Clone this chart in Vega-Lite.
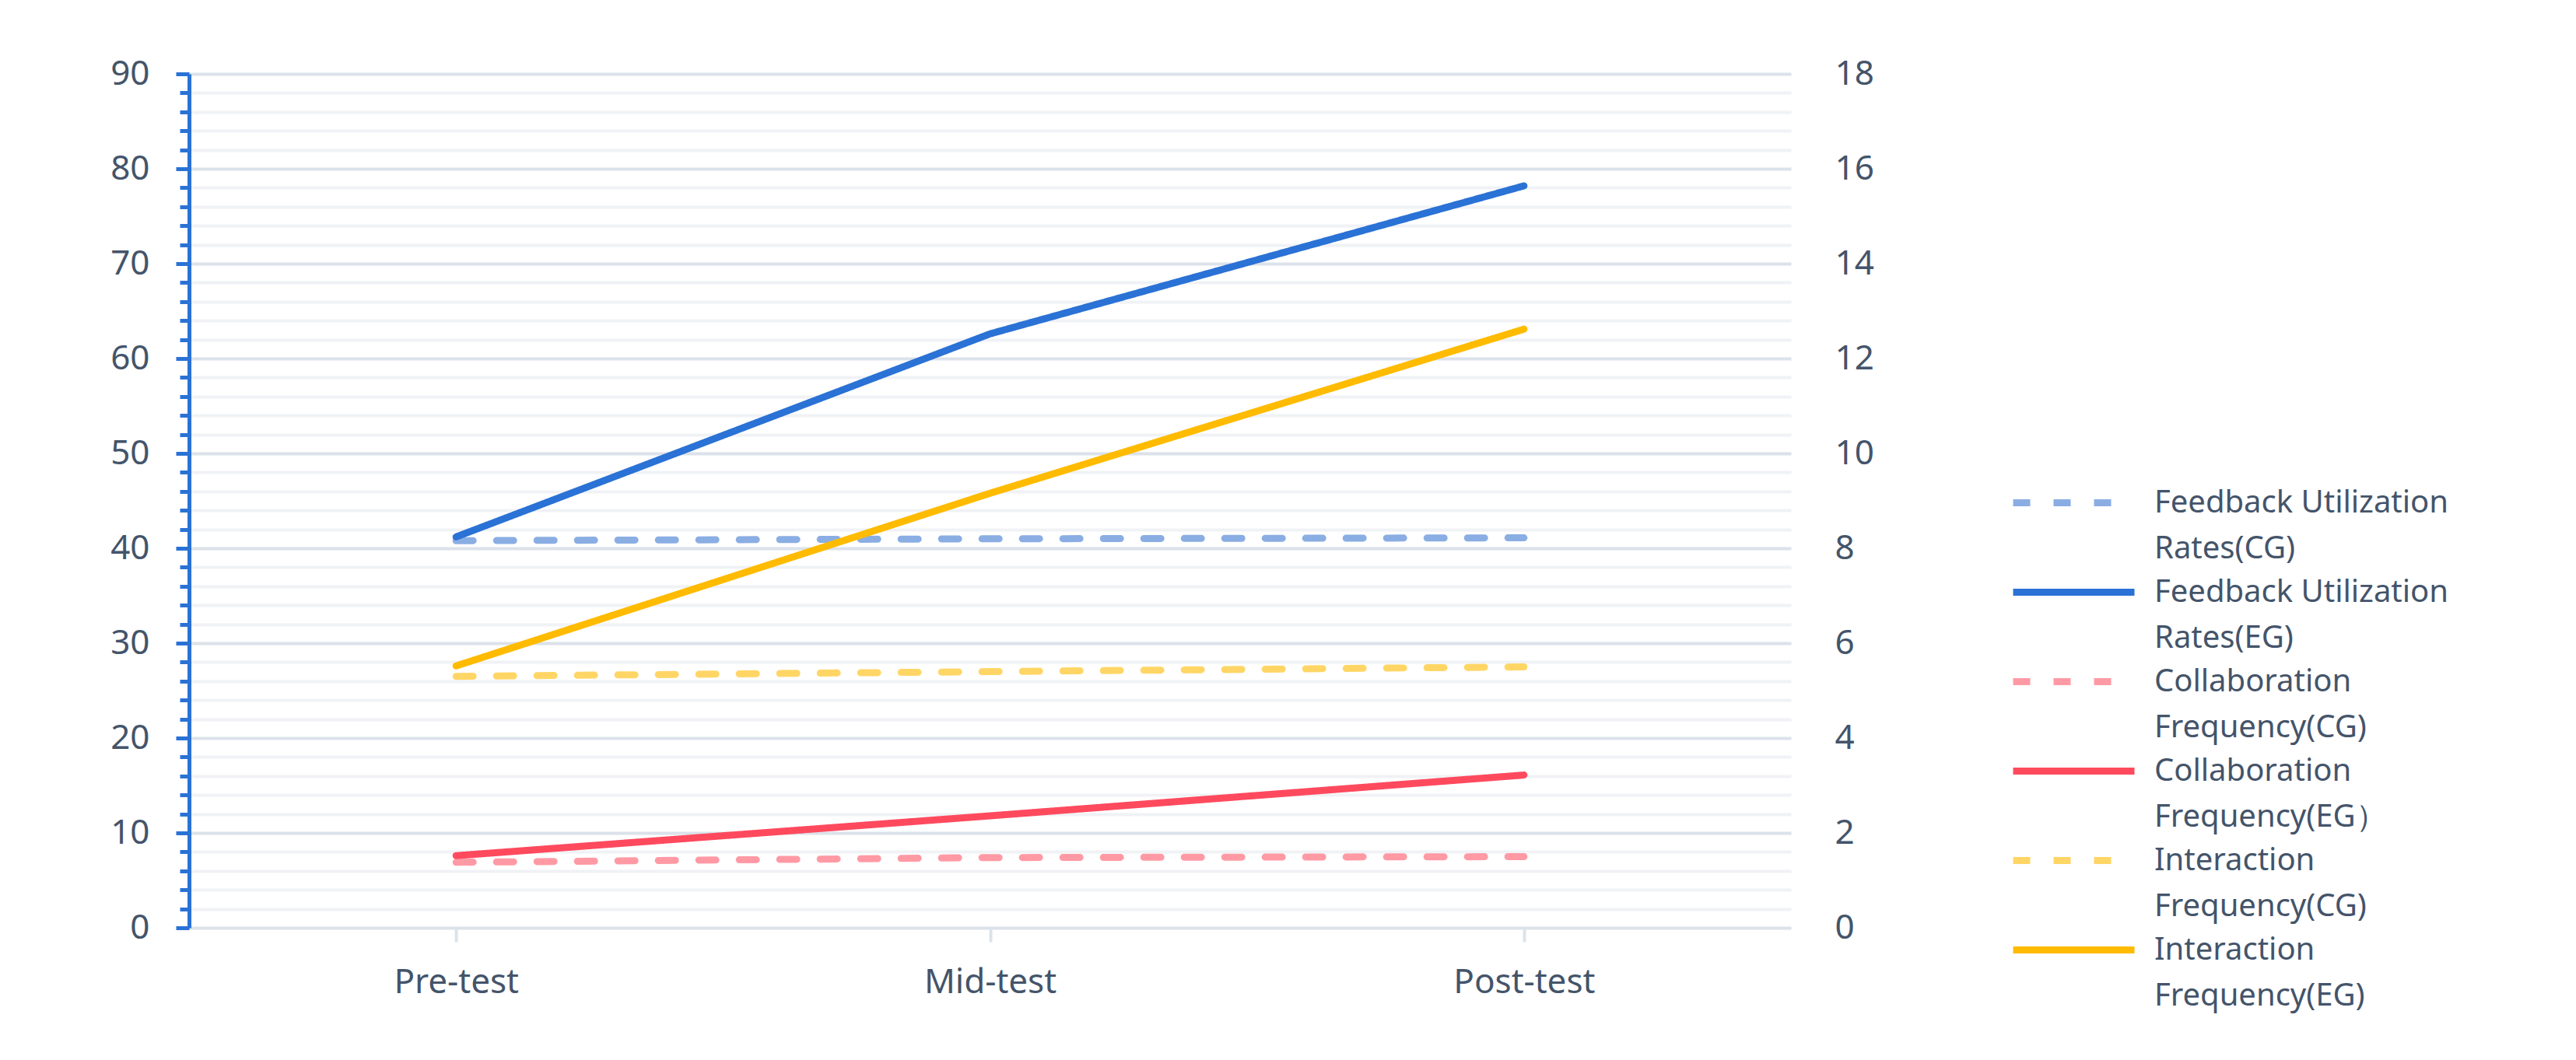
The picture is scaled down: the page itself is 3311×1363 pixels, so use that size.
{
  "$schema": "https://vega.github.io/schema/vega-lite/v6.json",
  "width": 2059,
  "height": 1098,
  "autosize": "none",
  "padding": {"left": 243, "top": 95, "right": 1009, "bottom": 170},
  "background": "white",
  "config": {
    "view": {"stroke": null},
    "font": "Noto Sans",
    "style": {"guide-label": {"lineHeight": 59}}
  },
  "data": {
    "values": [
      {"test": "Pre-test", "series": "Feedback Utilization Rates(CG)", "value": 40.8},
      {"test": "Mid-test", "series": "Feedback Utilization Rates(CG)", "value": 41.0},
      {"test": "Post-test", "series": "Feedback Utilization Rates(CG)", "value": 41.1},
      {"test": "Pre-test", "series": "Feedback Utilization Rates(EG)", "value": 41.2},
      {"test": "Mid-test", "series": "Feedback Utilization Rates(EG)", "value": 62.6},
      {"test": "Post-test", "series": "Feedback Utilization Rates(EG)", "value": 78.2},
      {"test": "Pre-test", "series": "Collaboration Frequency(CG)", "value": 6.9},
      {"test": "Mid-test", "series": "Collaboration Frequency(CG)", "value": 7.4},
      {"test": "Post-test", "series": "Collaboration Frequency(CG)", "value": 7.5},
      {"test": "Pre-test", "series": "Collaboration Frequency(EG）", "value": 7.6},
      {"test": "Mid-test", "series": "Collaboration Frequency(EG）", "value": 11.8},
      {"test": "Post-test", "series": "Collaboration Frequency(EG）", "value": 16.1},
      {"test": "Pre-test", "series": "Interaction Frequency(CG)", "value": 26.5},
      {"test": "Mid-test", "series": "Interaction Frequency(CG)", "value": 27.0},
      {"test": "Post-test", "series": "Interaction Frequency(CG)", "value": 27.5},
      {"test": "Pre-test", "series": "Interaction Frequency(EG)", "value": 27.6},
      {"test": "Mid-test", "series": "Interaction Frequency(EG)", "value": 45.8},
      {"test": "Post-test", "series": "Interaction Frequency(EG)", "value": 63.1}
    ]
  },
  "layer": [
    {
      "mark": {"type": "line", "strokeWidth": 9, "strokeCap": "round", "strokeJoin": "round"},
      "encoding": {
        "x": {
          "field": "test", "type": "nominal",
          "sort": ["Pre-test", "Mid-test", "Post-test"],
          "scale": {"type": "point", "padding": 0.5},
          "axis": {
            "title": null, "labelAngle": 0, "labelFontSize": 44, "labelColor": "#44546a", "labelLimit": 500,
            "domain": false, "ticks": true, "tickColor": "#dde3ea", "tickWidth": 4, "tickSize": 18,
            "labelPadding": 30, "grid": false
          }
        },
        "y": {
          "field": "value", "type": "quantitative",
          "scale": {"domain": [0, 90]},
          "axis": {
            "orient": "left", "title": null,
            "values": [0,2,4,6,8,10,12,14,16,18,20,22,24,26,28,30,32,34,36,38,40,42,44,46,48,50,52,54,56,58,60,62,64,66,68,70,72,74,76,78,80,82,84,86,88,90],
            "labelExpr": "datum.value % 10 === 0 ? datum.label : ''",
            "labelOverlap": false,
            "grid": true,
            "gridColor": {"condition": {"test": "datum.value % 10 === 0", "value": "#dce2ea"}, "value": "#f0f2f5"},
            "gridWidth": 4,
            "domainColor": "#2a72d5", "domainWidth": 5,
            "tickColor": "#2a72d5", "tickWidth": 5,
            "tickSize": {"condition": {"test": "datum.value % 10 === 0", "value": 17}, "value": 12},
            "labelFontSize": 44, "labelColor": "#44546a", "labelPadding": 34
          }
        },
        "color": {
          "field": "series", "type": "nominal",
          "scale": {
            "domain": ["Feedback Utilization Rates(CG)", "Feedback Utilization Rates(EG)", "Collaboration Frequency(CG)", "Collaboration Frequency(EG）", "Interaction Frequency(CG)", "Interaction Frequency(EG)"],
            "range": ["#8aaee3", "#2a72d5", "#ff9aa5", "#ff4a5e", "#ffd666", "#ffbb00"]
          },
          "legend": {
            "orient": "none", "legendX": 2398, "legendY": 527,
            "title": null, "symbolType": "M-3.9,0H3.9", "symbolSize": 1600, "symbolStrokeWidth": 9,
            "labelFontSize": 40, "labelColor": "#44546a", "labelLimit": 900, "labelOffset": 79,
            "rowPadding": 11, "labelBaseline": "middle",
            "labelExpr": "[slice(datum.label, 0, lastindexof(datum.label, ' ')), slice(datum.label, lastindexof(datum.label, ' ') + 1)]"
          }
        },
        "strokeDash": {
          "field": "series", "type": "nominal",
          "scale": {
            "domain": ["Feedback Utilization Rates(CG)", "Feedback Utilization Rates(EG)", "Collaboration Frequency(CG)", "Collaboration Frequency(EG）", "Interaction Frequency(CG)", "Interaction Frequency(EG)"],
            "range": [[22, 30], [1, 0], [22, 30], [1, 0], [22, 30], [1, 0]]
          },
          "legend": {
            "orient": "none", "legendX": 2398, "legendY": 527,
            "title": null, "symbolType": "M-3.9,0H3.9", "symbolSize": 1600, "symbolStrokeWidth": 9,
            "labelFontSize": 40, "labelColor": "#44546a", "labelLimit": 900, "labelOffset": 79,
            "rowPadding": 11, "labelBaseline": "middle",
            "labelExpr": "[slice(datum.label, 0, lastindexof(datum.label, ' ')), slice(datum.label, lastindexof(datum.label, ' ') + 1)]"
          }
        }
      }
    },
    {
      "mark": {"type": "rule", "opacity": 0},
      "encoding": {
        "y": {
          "datum": 0, "type": "quantitative",
          "scale": {"domain": [0, 18]},
          "axis": {
            "orient": "right", "title": null,
            "values": [0,2,4,6,8,10,12,14,16,18],
            "domain": false, "ticks": false, "grid": false,
            "labelFontSize": 44, "labelColor": "#44546a", "labelPadding": 56, "labelAlign": "left"
          }
        }
      }
    }
  ],
  "resolve": {"scale": {"y": "independent"}}
}
